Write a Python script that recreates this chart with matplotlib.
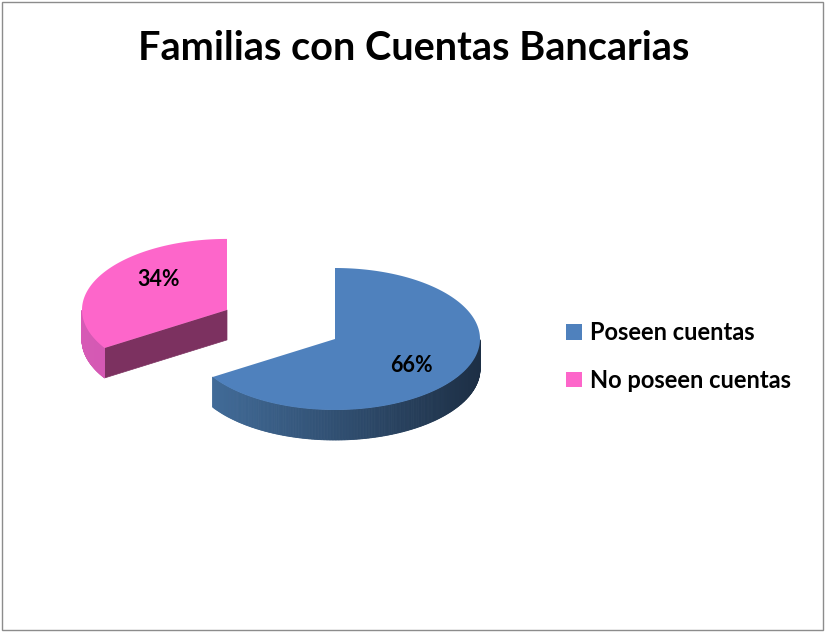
import numpy as np
import matplotlib.pyplot as plt
from matplotlib.patches import Polygon, Patch
from matplotlib.colors import to_rgb

plt.rcParams['font.family'] = ['Lato', 'DejaVu Sans']

# data
labels = ['Poseen cuentas', 'No poseen cuentas']
values = [66, 34]
pct_labels = ['66%', '34%']
top_colors = ['#4f81bd', '#fd66ca']
side_light = ['#44709f', '#d65ab5']
side_dark = ['#1d2f45', '#c24fa3']
cut_colors = ['#2a4566', '#7c3160']
explode = [0.0, 0.85]

# pie geometry (pixel space)
cx, cy = 335, 339
R, ry, depth = 145, 71, 30

fig = plt.figure(figsize=(8.26, 6.33), dpi=100)
ax = fig.add_axes([0, 0, 1, 1])
ax.set_xlim(0, 826)
ax.set_ylim(633, 0)
ax.axis('off')

# outer border
ax.add_patch(plt.Rectangle((2, 2), 821, 628, fill=False, ec='#8c8c8c', lw=1))


def pt(x0, y0, th, dy=0.0):
    t = np.radians(th)
    return x0 + R * np.cos(t), y0 - ry * np.sin(t) + dy


def blend(c1, c2, f):
    a, b = np.array(to_rgb(c1)), np.array(to_rgb(c2))
    return tuple(a + (b - a) * f)


total = sum(values)
starts, ends = [], []
a = 90.0
for v in values:
    starts.append(a)
    a -= 360.0 * v / total
    ends.append(a)

wedges = []
for i in range(len(values)):
    mid = (starts[i] + ends[i]) / 2
    ox = explode[i] * R * np.cos(np.radians(mid))
    oy = -explode[i] * ry * np.sin(np.radians(mid))
    wedges.append((cx + ox, cy + oy, mid))

# draw back (exploded) slice first, then the main one
for i in [1, 0]:
    x0, y0, mid = wedges[i]
    th0, th1 = ends[i], starts[i]  # increasing angle order
    # radial cut faces, drawn when they face the viewer
    for th, n_ang in [(th0, th0 - 90), (th1, th1 + 90)]:
        if np.sin(np.radians(n_ang)) < -0.05:
            ex, ey = pt(x0, y0, th)
            ax.add_patch(Polygon([(x0, y0), (ex, ey), (ex, ey + depth), (x0, y0 + depth)],
                                 closed=True, fc=cut_colors[i], ec=cut_colors[i], lw=0.5))
    # outer side, only the part in the front half
    ths = np.linspace(th0, th1, 400)
    ths_mod = np.mod(ths, 360)
    vis = (ths_mod > 180) & (ths_mod < 360)
    idx = np.where(vis)[0]
    for k in range(len(idx) - 1):
        j = idx[k]
        if idx[k + 1] != j + 1:
            continue
        ta, tb = ths[j], ths[j + 1]
        xa, ya = pt(x0, y0, ta)
        xb, yb = pt(x0, y0, tb)
        f = (np.cos(np.radians(ta)) + 1) / 2
        c = blend(side_light[i], side_dark[i], f)
        ax.add_patch(Polygon([(xa, ya), (xb, yb), (xb, yb + depth), (xa, ya + depth)],
                             closed=True, fc=c, ec=c, lw=0.6))
    # top face
    arc = [pt(x0, y0, t) for t in np.linspace(th0, th1, 200)]
    ax.add_patch(Polygon([(x0, y0)] + arc, closed=True, fc=top_colors[i], ec='none'))

# percentage labels
for i in range(len(values)):
    x0, y0, mid = wedges[i]
    lx, ly = x0 + 0.6 * R * np.cos(np.radians(mid)), y0 - 0.6 * ry * np.sin(np.radians(mid))
    if i == 1:
        lx, ly = x0 - 0.47 * R, y0 - 31
    ax.text(lx, ly + 6 if i == 0 else ly + 1, pct_labels[i], ha='center', va='center',
            fontsize=15.5, fontweight='bold', color='black')

ax.text(414, 49, 'Familias con Cuentas Bancarias', ha='center', va='center',
        fontsize=28.5, fontweight='bold', color='black')

handles = [Patch(fc=top_colors[0], ec='none'), Patch(fc=top_colors[1], ec='none')]
fig.legend(handles, labels, loc='center left', bbox_to_anchor=(0.66, 0.437),
           frameon=False, prop={'size': 17, 'weight': 'bold'},
           handlelength=0.65, handleheight=0.65, handletextpad=0.35, labelspacing=1.05)

fig.savefig('out.png', dpi=100)
